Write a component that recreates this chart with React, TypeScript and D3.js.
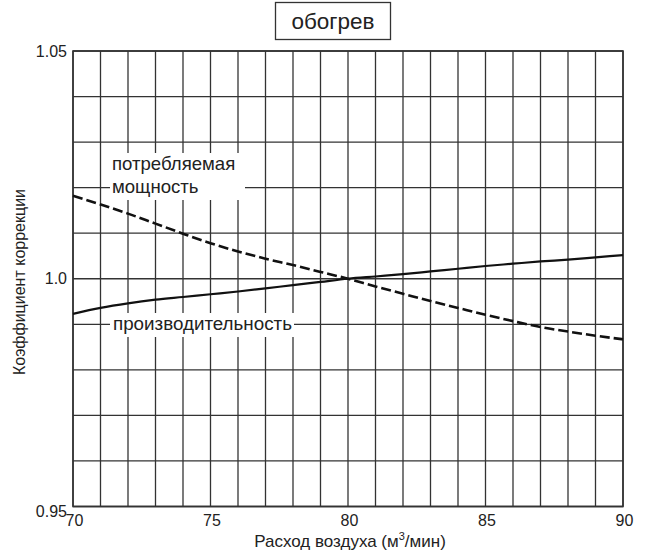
import React from "react";
import * as d3 from "d3";

const airflow = [70, 71, 72, 73, 74, 75, 76, 77, 78, 79, 80, 81, 82, 83, 84, 85, 86, 87, 88, 89, 90];
const capacity = [0.9923, 0.9936, 0.9946, 0.9954, 0.996, 0.9966, 0.9972, 0.9979, 0.9986, 0.9993, 1.0, 1.0005, 1.001, 1.0016, 1.0022, 1.0028, 1.0033, 1.0038, 1.0042, 1.0047, 1.0052];
const power = [1.0182, 1.0163, 1.0143, 1.0121, 1.0099, 1.0078, 1.006, 1.0044, 1.003, 1.0015, 1.0, 0.9983, 0.9967, 0.9951, 0.9936, 0.9921, 0.9907, 0.9894, 0.9884, 0.9875, 0.9867];
const xTicks = [70, 75, 80, 85, 90];
const yTicks = [0.95, 1.0, 1.05];
const yTickLabels = ["0.95", "1.0", "1.05"];
const title = "обогрев";
const xTitle = "Расход воздуха (м";
const xTitleSup = "3";
const xTitleEnd = "/мин)";
const yTitle = "Коэффициент коррекции";
const powerLabel = ["потребляемая", "мощность"];
const capacityLabel = "производительность";

const W = 648;
const H = 553;
const FONT = "Liberation Sans, Arial, sans-serif";

export default function App() {
  const x = d3.scaleLinear().domain([70, 90]).range([73, 623]);
  const y = d3.scaleLinear().domain([0.95, 1.05]).range([506.5, 51]);
  const vGrid = d3.range(70, 91, 1);
  const hGrid = d3.range(0, 11).map((i) => 0.95 + i * 0.01);
  const line = d3
    .line<number>()
    .x((_, i) => x(airflow[i]))
    .y((d) => y(d))
    .curve(d3.curveMonotoneX);
  const gridColor = "#333";

  return (
    <svg
      width={W}
      height={H}
      style={{ position: "absolute", left: 0, top: 0, background: "#fff" }}
      fontFamily={FONT}
    >
      <rect x={0} y={0} width={W} height={H} fill="#fff" />
      {/* grid */}
      {vGrid.map((v) => (
        <line key={"v" + v} x1={x(v)} x2={x(v)} y1={y(1.05)} y2={y(0.95)} stroke={gridColor} strokeWidth={1.3} />
      ))}
      {hGrid.map((v, i) => (
        <line key={"h" + i} x1={x(70)} x2={x(90)} y1={y(v)} y2={y(v)} stroke={gridColor} strokeWidth={1.3} />
      ))}
      <rect x={x(70)} y={y(1.05)} width={x(90) - x(70)} height={y(0.95) - y(1.05)} fill="none" stroke={gridColor} strokeWidth={1.6} />

      {/* label masks */}
      <rect x={110} y={153} width={135} height={47} fill="#fff" />
      <rect x={110} y={313} width={184} height={24} fill="#fff" />

      {/* lines */}
      <path d={line(capacity) || ""} fill="none" stroke="#111" strokeWidth={2.2} />
      <path d={line(power) || ""} fill="none" stroke="#111" strokeWidth={2.6} strokeDasharray="10,4" />

      {/* labels */}
      <text x={112} y={170} fontSize={18.6} fill="#222">{powerLabel[0]}</text>
      <text x={112} y={193} fontSize={18.6} fill="#222">{powerLabel[1]}</text>
      <text x={113} y={330} fontSize={18.8} fill="#222">{capacityLabel}</text>

      {/* y ticks */}
      {yTicks.map((t, i) => (
        <text key={"yt" + i} x={67} y={y(t) + (t === 0.95 ? 10 : 5.5)} fontSize={16} textAnchor="end" fill="#222">
          {yTickLabels[i]}
        </text>
      ))}
      {/* x ticks */}
      {xTicks.map((t) => (
        <text key={"xt" + t} x={x(t) + 1.5} y={526} fontSize={16} textAnchor="middle" fill="#222">
          {t}
        </text>
      ))}

      {/* axis titles */}
      <text x={350} y={546.5} fontSize={17} textAnchor="middle" fill="#222">
        {xTitle}
        <tspan fontSize={11} dy={-7}>{xTitleSup}</tspan>
        <tspan dy={7}>{xTitleEnd}</tspan>
      </text>
      <text transform={`translate(25,282) rotate(-90)`} fontSize={16} textAnchor="middle" fill="#222">
        {yTitle}
      </text>

      {/* title */}
      <rect x={275.5} y={2.5} width={115} height={37} fill="#fff" stroke="#333" strokeWidth={1.3} />
      <text x={333} y={29} fontSize={22.5} textAnchor="middle" fill="#222">{title}</text>
    </svg>
  );
}
